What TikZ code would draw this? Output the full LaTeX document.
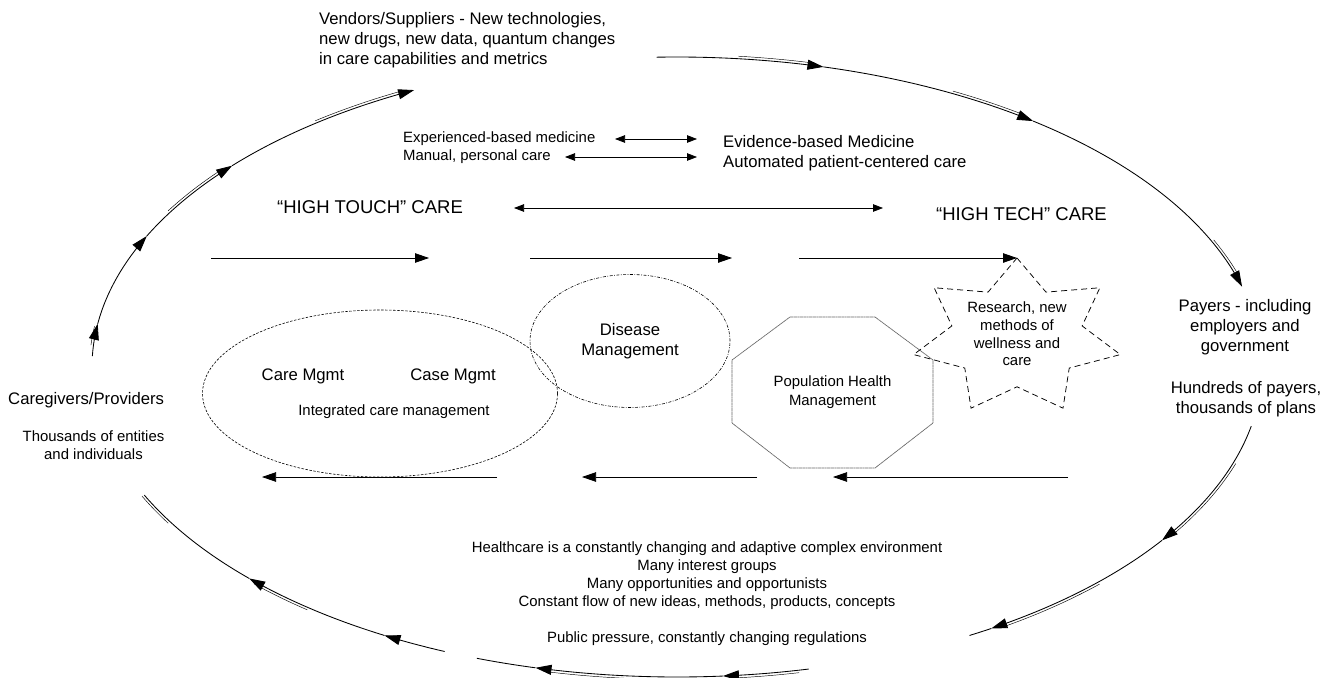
\documentclass[tikz,border=0pt]{standalone}
\usepackage{fontspec}
\setmainfont{Liberation Sans}
\usetikzlibrary{arrows.meta,shapes.geometric}
\newcommand\cycarc[3]{\draw[#1] plot[domain=#2:#3,samples=30,smooth] ({677+585*cos(\x)},{367-310*sin(\x)});}
\newcommand\ghostarc[2]{\draw[ghost] plot[domain=#1:#2,samples=12,smooth] ({677+587.5*cos(\x)},{367-312.5*sin(\x)});}
\begin{document}
\begin{tikzpicture}[x=1pt,y=-1pt,
  cyc/.style={line width=0.85pt,-{Triangle[length=16pt,width=10pt]}},
  cycl/.style={line width=0.85pt},
  ghost/.style={line width=0.45pt},
  flow/.style={line width=0.75pt,-{Triangle[length=14pt,width=9.5pt]}},
  dblarrow/.style={line width=0.75pt,{Triangle[length=10pt,width=7.5pt]}-{Triangle[length=10pt,width=7.5pt]}},
  small/.style={inner sep=0pt,font=\fontsize{14.9}{18}\selectfont},
  medium/.style={inner sep=0pt,font=\fontsize{16.7}{20}\selectfont},
  large/.style={inner sep=0pt,font=\fontsize{18.5}{22}\selectfont},
  careell/.style={draw,ellipse,line width=0.6pt,dash pattern=on 2.5pt off 1.5pt},
  disell/.style={draw,ellipse,line width=0.6pt,dash pattern=on 3pt off 1.5pt on 0.8pt off 1.5pt},
  octo/.style={draw=black!60,line width=0.7pt,dash pattern=on 1.5pt off 0.4pt},
  stardash/.style={line width=0.75pt,dash pattern=on 6pt off 4pt},
]
\useasboundingbox (0,0) rectangle (1327,677);

% ---------- outer cycle ----------
\cycarc{cyc}{178}{172}
\cycarc{cyc}{172}{155}
\cycarc{cyc}{155}{139.5}
\cycarc{cyc}{139.5}{116.7}
\ghostarc{176}{172.5}
\ghostarc{150}{141}
\ghostarc{128}{118}
\cycarc{cyc}{92}{75.5}
\cycarc{cyc}{75.5}{52.5}
\cycarc{cyc}{52.5}{15}
\ghostarc{84}{77}
\ghostarc{62}{54}
\ghostarc{24}{17}
\cycarc{cyc}{-11}{-34}
\cycarc{cyc}{-34}{-57.5}
\cycarc{cycl}{-57.5}{-60}
\ghostarc{-18}{-32}
\ghostarc{-44}{-56}
\cycarc{cyc}{-77}{-85.5}
\cycarc{cyc}{-85.5}{-104}
\cycarc{cycl}{-104}{-110}
\ghostarc{-78}{-84}
\ghostarc{-95}{-102.5}
\cycarc{cyc}{-113.4}{-120}
\cycarc{cyc}{-120}{-137}
\cycarc{cycl}{-137}{-155.6}
\ghostarc{-129}{-136}
\ghostarc{-150}{-155.6}

% ---------- outer texts ----------
\node[medium,anchor=west,align=left] (vendors) at (319,40)
  {Vendors/Suppliers - New technologies,\\new drugs, new data, quantum changes\\in care capabilities and metrics};
\node[medium,anchor=base west] (caregivers) at (8,404) {Caregivers/Providers};
\node[small,align=center,font=\fontsize{14.9}{17.5}\selectfont] (thousands) at (93.5,445) {Thousands of entities\\and individuals};
\node[medium,align=center] (payers) at (1245,327) {Payers - including\\employers and\\government};
\node[medium,align=center,font=\fontsize{16.7}{19.5}\selectfont] (hundreds) at (1246,399) {Hundreds of payers,\\thousands of plans};
\node[small,align=center] (health) at (707,594)
  {Healthcare is a constantly changing and adaptive complex environment\\Many interest groups\\Many opportunities and opportunists\\Constant flow of new ideas, methods, products, concepts\\[18pt]Public pressure, constantly changing regulations};

% ---------- medicine pairs ----------
\node[small,anchor=west,align=left] (exp) at (403,148) {Experienced-based medicine\\Manual, personal care};
\node[medium,anchor=west,align=left,font=\fontsize{16.7}{19.5}\selectfont] (evid) at (723,153) {Evidence-based Medicine\\Automated patient-centered care};
\coordinate (d1a) at (615,139); \coordinate (d1b) at (697,139);
\coordinate (d2a) at (565,157); \coordinate (d2b) at (697,157);
\draw[dblarrow] (d1a) -- (d1b);
\draw[dblarrow] (d2a) -- (d2b);

\node[large,anchor=west] (htouch) at (277,207) {“HIGH TOUCH” CARE};
\node[large,anchor=west] (htech) at (936,214) {“HIGH TECH” CARE};
\coordinate (d3a) at (514,208); \coordinate (d3b) at (883,208);
\draw[dblarrow] (d3a) -- (d3b);

% ---------- shapes ----------
\node[careell,minimum width=355pt,minimum height=167pt] (care) at (380,393.5) {};
\node[disell,minimum width=200pt,minimum height=133pt] (disease) at (630,341) {};
\node[medium,align=center] (distxt) at (630,341) {Disease\\Management};
\node[medium] (caremgmt) at (303,376) {Care Mgmt};
\node[medium] (casemgmt) at (453,376) {Case Mgmt};
\node[small] (integ) at (394,412) {Integrated care management};

\draw[octo] (790,317) -- (875,317) -- (933,360) -- (933,423) -- (875,468) -- (790,468) -- (732,423) -- (732,360) -- cycle;
\node[small,align=center,font=\fontsize{14.9}{19}\selectfont] (pop) at (832.5,392.5) {Population Health\\Management};

\draw[stardash] (1017,258)
  \foreach \k [evaluate=\k as \rx using {mod(\k,2)==0?106:66.8},
               evaluate=\k as \ry using {mod(\k,2)==0?79:49.8}] in {1,...,13}
  { -- ({1017+\rx*cos(90-\k*25.7143)},{337-\ry*sin(90-\k*25.7143)}) } -- cycle;
\coordinate (startop) at (1017,258);
\node[small,align=center,font=\fontsize{14.9}{17.7}\selectfont] (research) at (1017,334) {Research, new\\methods of\\wellness and\\care};

% ---------- flow arrows ----------
\coordinate (t1a) at (211,258); \coordinate (t1b) at (429,258);
\coordinate (t2a) at (530,258); \coordinate (t2b) at (732,258);
\coordinate (t3a) at (799,258);
\draw[flow] (t1a) -- (t1b);
\draw[flow] (t2a) -- (t2b);
\draw[flow] (t3a) -- (startop);
\coordinate (b1a) at (497,477); \coordinate (b1b) at (262,477);
\coordinate (b2a) at (757,477); \coordinate (b2b) at (582,477);
\coordinate (b3a) at (1068,477); \coordinate (b3b) at (833,477);
\draw[flow] (b1a) -- (b1b);
\draw[flow] (b2a) -- (b2b);
\draw[flow] (b3a) -- (b3b);
\end{tikzpicture}
\end{document}
